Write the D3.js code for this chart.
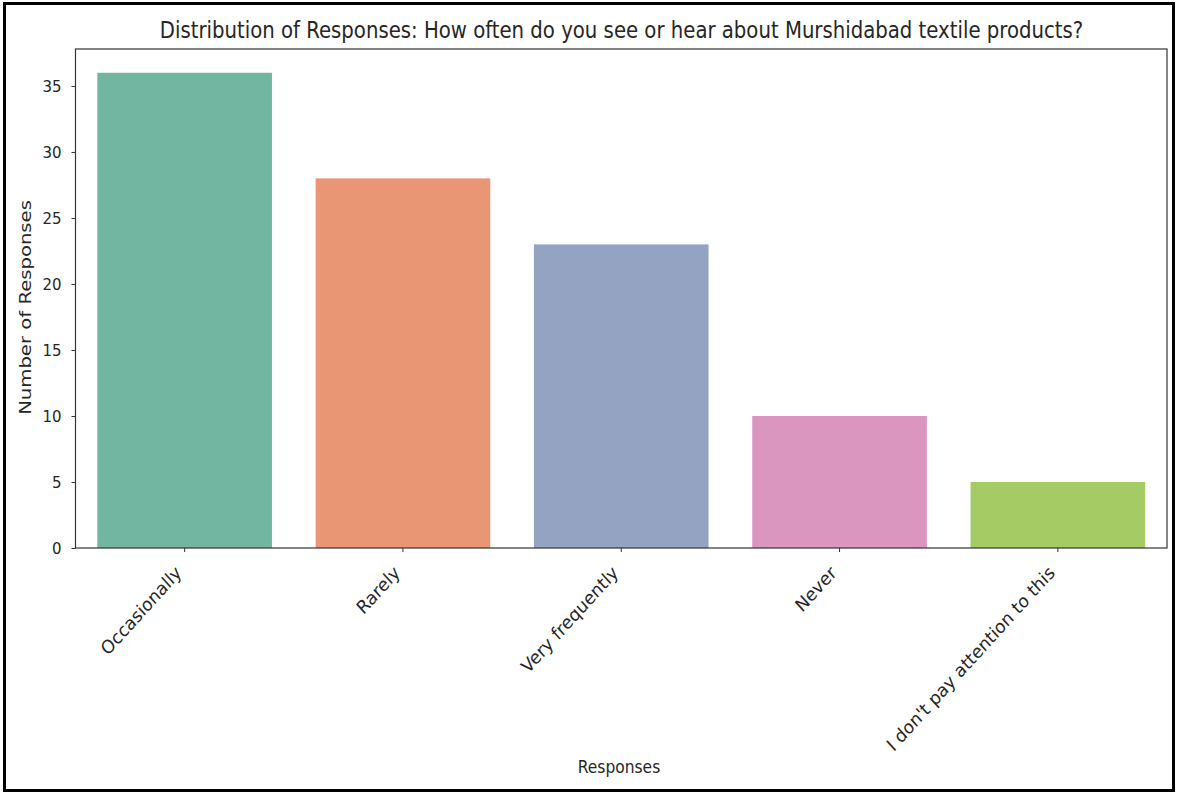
<!DOCTYPE html>
<html><head><meta charset="utf-8">
<script src="https://cdn.jsdelivr.net/npm/d3@7"></script>
<style>body{margin:0;background:#fff}svg{display:block}text{font-family:"DejaVu Sans",sans-serif;fill:#262626}</style>
</head><body><svg id="c" width="1177" height="794"></svg>
<script>
const categories = ["Occasionally","Rarely","Very frequently","Never","I don't pay attention to this"];
const counts = [36, 28, 23, 10, 5];
const colors = ["#72b6a1","#e99675","#95a3c3","#db96c0","#a4cb64"];
const yTicks = [0,5,10,15,20,25,30,35];
const title = "Distribution of Responses: How often do you see or hear about Murshidabad textile products?";
const xLabel = "Responses", yLabel = "Number of Responses";

const svg = d3.select("#c");
const L=75.5, R=1167, T=49, B=548;
const x = d3.scaleBand().domain(categories).range([L,R]).paddingInner(0.2).paddingOuter(0.1);
const y = d3.scaleLinear().domain([0, d3.max(counts)*1.05]).range([B,T]);

svg.append("rect").attr("x",0).attr("y",0).attr("width",1177).attr("height",794).attr("fill","#fff");
svg.append("rect").attr("x",4.5).attr("y",3.5).attr("width",1169).attr("height",787).attr("fill","none").attr("stroke","#000").attr("stroke-width",3);

svg.selectAll(".bar").data(counts).join("rect")
  .attr("x",(d,i)=>x(categories[i])).attr("width",x.bandwidth())
  .attr("y",d=>y(d)).attr("height",d=>B-y(d)).attr("fill",(d,i)=>colors[i]);

const yAxis = svg.append("g").attr("transform",`translate(${L},0)`)
  .call(d3.axisLeft(y).tickValues(yTicks).tickSize(4).tickPadding(10));
yAxis.select(".domain").remove();
yAxis.selectAll("line").attr("stroke","#333");
yAxis.selectAll("text").style("font-size","15px").style("font-family","DejaVu Sans").attr("fill","#262626")
  .attr("transform","scale(1,1.1)");

const xAxis = svg.append("g").attr("transform",`translate(0,${B})`)
  .call(d3.axisBottom(x).tickSize(4));
xAxis.select(".domain").remove();
xAxis.selectAll("line").attr("stroke","#333");
xAxis.selectAll("text").style("font-size","16.8px").style("font-family","DejaVu Sans").attr("fill","#262626")
  .attr("text-anchor","end").attr("y",0).attr("dy",0)
  .attr("transform","translate(-2,26) scale(1,1.1) rotate(-45)");

svg.append("rect").attr("x",L).attr("y",T).attr("width",R-L).attr("height",B-T)
  .attr("fill","none").attr("stroke","#333").attr("stroke-width",1.2);

svg.append("text").attr("transform","translate(621.5,38) scale(1,1.16)").attr("text-anchor","middle")
  .style("font-size","19.7px").text(title);
svg.append("text").attr("transform","translate(619,773) scale(1,1.1)").attr("text-anchor","middle")
  .style("font-size","15.5px").text(xLabel);
svg.append("text").attr("transform","translate(31,307.5) scale(1,1.19) rotate(-90)").attr("text-anchor","middle")
  .style("font-size","16.5px").text(yLabel);
</script></body></html>
